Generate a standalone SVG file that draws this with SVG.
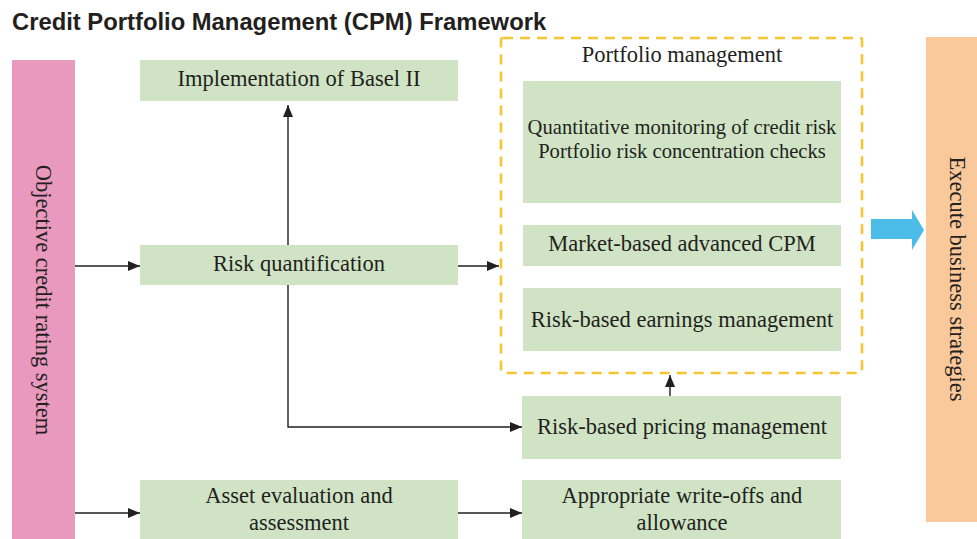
<svg xmlns="http://www.w3.org/2000/svg" width="977" height="539" viewBox="0 0 977 539">
<style>
.t{font-family:"Liberation Serif","Times New Roman",serif;font-size:22.5px;fill:#231f20;text-anchor:middle}
.s{font-size:20.6px}
.g{fill:#d0e4c5}
.c{stroke:#231f20;stroke-width:1.4;fill:none}
</style>
<defs>
<marker id="ah" viewBox="0 0 12 10" refX="12" refY="5" markerWidth="12" markerHeight="10" markerUnits="userSpaceOnUse" orient="auto">
<path d="M0,0 L12,5 L0,10 Z" fill="#231f20"/>
</marker>
</defs>
<rect width="977" height="539" fill="#fff"/>
<text x="12" y="30" font-family="'Liberation Sans',Arial,sans-serif" font-weight="bold" font-size="23.8" fill="#231f20">Credit Portfolio Management (CPM) Framework</text>

<g id="rating">
<rect x="12" y="60" width="63" height="479" fill="#e899bd"/>
<text class="t" transform="translate(36,300) rotate(90)">Objective credit rating system</text>
</g>
<g id="strategies">
<rect x="926" y="37" width="51" height="485" fill="#f9c89b"/>
<text class="t" transform="translate(950,279) rotate(90)">Execute business strategies</text>
</g>
<g id="basel">
<rect class="g" x="140" y="60" width="318" height="41"/>
<text class="t" x="299" y="86">Implementation of Basel II</text>
</g>
<g id="riskq">
<rect class="g" x="140" y="245" width="318" height="40"/>
<text class="t" x="299" y="271">Risk quantification</text>
</g>
<g id="portfolio">
<rect x="501" y="38" width="361" height="335" fill="none" stroke="#f5c533" stroke-width="2.6" stroke-dasharray="10,7" rx="2"/>
<text class="t" x="682" y="62">Portfolio management</text>
<rect class="g" x="523" y="81" width="318" height="122"/>
<text class="t s" x="682" y="134">Quantitative monitoring of credit risk</text>
<text class="t s" x="682" y="158">Portfolio risk concentration checks</text>
<rect class="g" x="523" y="225" width="318" height="41"/>
<text class="t" x="682" y="251">Market-based advanced CPM</text>
<rect class="g" x="523" y="288" width="318" height="63"/>
<text class="t" x="682" y="327">Risk-based earnings management</text>
</g>
<g id="pricing">
<rect class="g" x="522" y="396" width="319" height="63"/>
<text class="t" x="682" y="434">Risk-based pricing management</text>
</g>
<g id="asset">
<rect class="g" x="140" y="480" width="318" height="59"/>
<text class="t" x="299" y="503">Asset evaluation and</text>
<text class="t" x="299" y="530">assessment</text>
</g>
<g id="writeoff">
<rect class="g" x="522" y="480" width="319" height="59"/>
<text class="t" x="682" y="503">Appropriate write-offs and</text>
<text class="t" x="682" y="530">allowance</text>
</g>
<g id="connectors">
<line class="c" x1="75" y1="266" x2="140" y2="266" marker-end="url(#ah)"/>
<line class="c" x1="288" y1="245" x2="288" y2="105" marker-end="url(#ah)"/>
<line class="c" x1="458" y1="266" x2="499" y2="266" marker-end="url(#ah)"/>
<polyline class="c" points="288,285 288,427 522,427" marker-end="url(#ah)"/>
<line class="c" x1="670" y1="396" x2="670" y2="375" marker-end="url(#ah)"/>
<line class="c" x1="75" y1="513" x2="140" y2="513" marker-end="url(#ah)"/>
<line class="c" x1="458" y1="513" x2="522" y2="513" marker-end="url(#ah)"/>
<path d="M871,219 H912 V210 L924,230 L912,250 V239 H871 Z" fill="#4bbde8"/>
</g>
</svg>
